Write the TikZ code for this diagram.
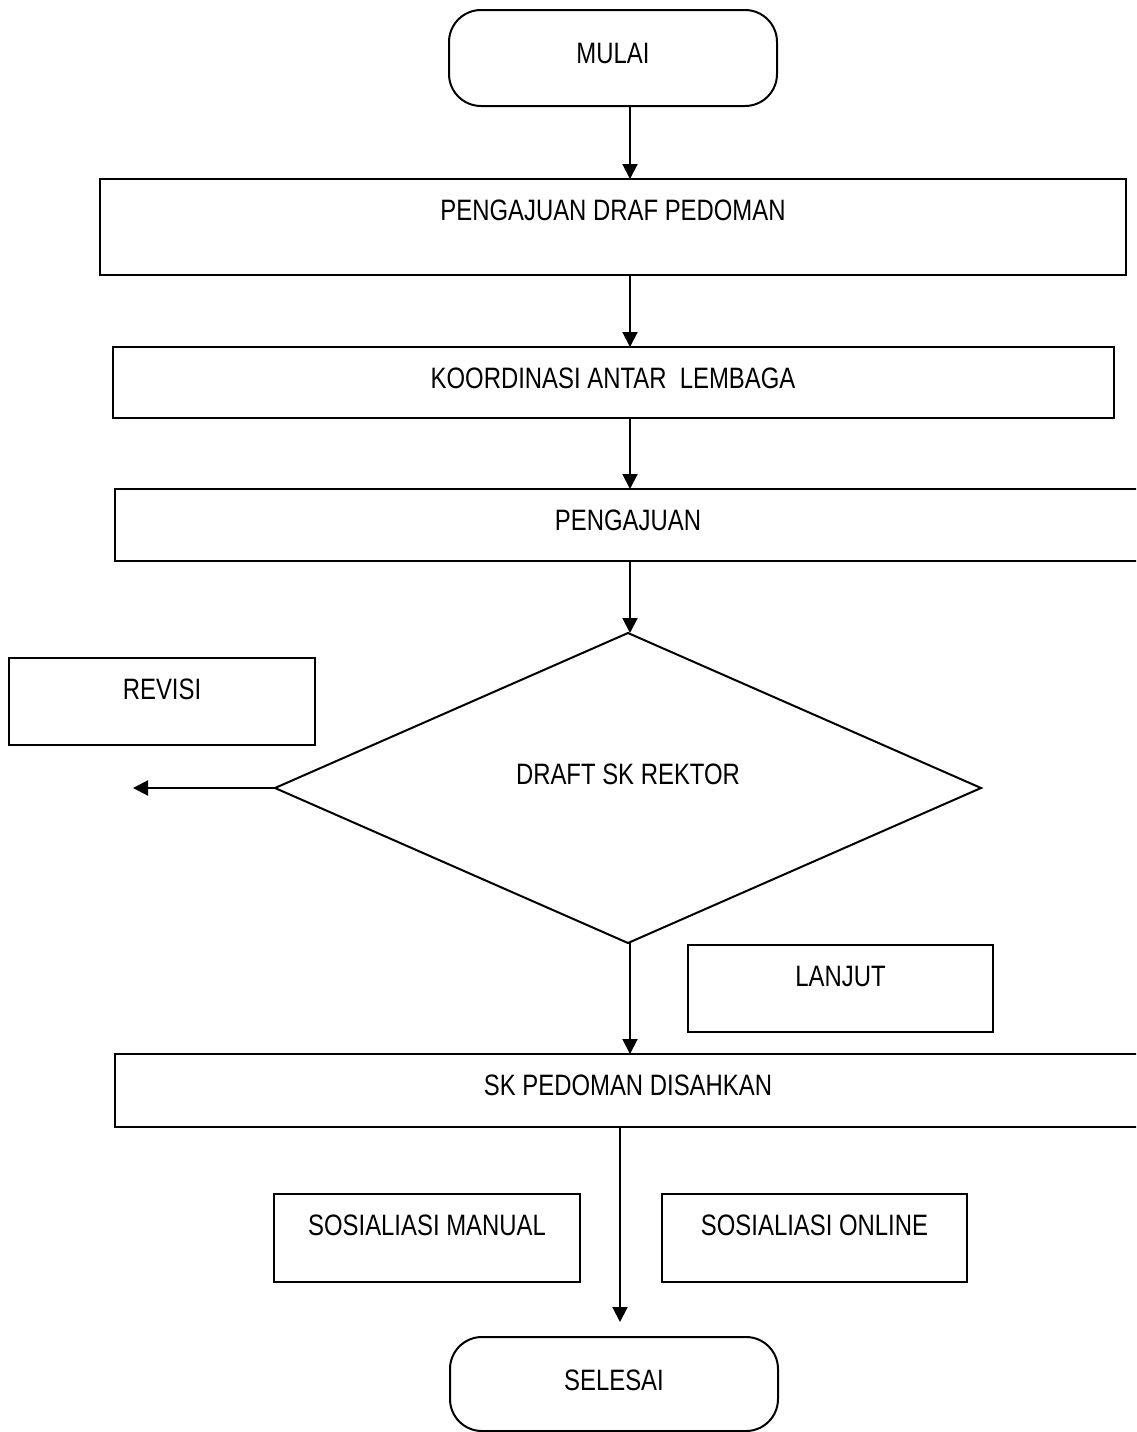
\documentclass[tikz,border=0pt]{standalone}
\usepackage{fontspec}
\setmainfont{Liberation Sans}[FakeStretch=0.81]
\usetikzlibrary{arrows.meta,positioning,shapes.geometric}

\begin{document}
\begin{tikzpicture}[x=1pt,y=-1pt,
	font=\fontsize{29.5pt}{34pt}\selectfont,
	box/.style={draw,line width=2pt,outer sep=0pt,inner sep=10pt,text height=31pt,text depth=#1},
	term/.style={draw,line width=2pt,outer sep=0pt,rounded corners=32pt,inner sep=10pt,minimum width=328pt,text height=43pt,text depth=#1},
	decide/.style={draw,diamond,line width=2pt,outer sep=0pt,inner sep=0pt,minimum width=706pt,minimum height=310pt,text height=31pt,text depth=39pt},
	arr/.style={-{Triangle[length=15pt,width=15pt]},line width=2pt}]
	\useasboundingbox (0,0) rectangle (1136,1432);
	\clip (0,0) rectangle (1136,1432);
	\coordinate (axis) at (630,0);
	\coordinate (axisb) at (620,0);
	\node[term=33pt] (mulai) at (613,58) {MULAI};
	\node[box=45pt,minimum width=1026pt,below=73pt of mulai] (draf) {PENGAJUAN DRAF PEDOMAN};
	\node[box=20pt,minimum width=1001pt,below=72pt of draf] (koord) {KOORDINASI ANTAR\ \ LEMBAGA};
	\node[box=21pt,minimum width=1026pt,below=71pt of koord.south west,anchor=north west,xshift=2.5pt] (peng) {PENGAJUAN};
	\node[decide,below=72pt of peng] (dec) {DRAFT SK REKTOR};
	\node[box=22pt,minimum width=1026pt,below=111pt of dec] (sk) {SK PEDOMAN DISAHKAN};
	\node[term=31pt,below=210pt of sk,xshift=-14pt] (selesai) {SELESAI};
	\node[box=36pt,minimum width=306pt] (revisi) at (162,701.5) {REVISI};
	\node[box=36pt,minimum width=305pt] (lanjut) at (840.5,988.5) {LANJUT};
	\node[box=37pt,minimum width=306pt] (manual) at (427,1238) {SOSIALIASI MANUAL};
	\node[box=37pt,minimum width=305pt] (online) at (814.5,1238) {SOSIALIASI ONLINE};
	\coordinate (revend) at (133,788);
	\coordinate (endtip) at (620,1322);
	\draw[arr] (mulai.south -| axis) -- (draf.north -| axis);
	\draw[arr] (draf.south -| axis) -- (koord.north -| axis);
	\draw[arr] (koord.south -| axis) -- (peng.north -| axis);
	\draw[arr] (peng.south -| axis) -- (dec.north -| axis);
	\draw[arr] (dec.south -| axis) -- (sk.north -| axis);
	\draw[arr] (dec.west) -- (dec.west -| revend);
	\draw[arr] (sk.south -| axisb) -- (endtip);
\end{tikzpicture}
\end{document}
